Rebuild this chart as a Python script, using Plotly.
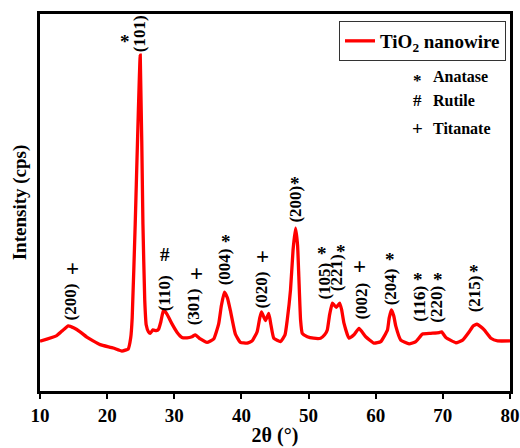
import plotly.graph_objects as go

# --- data ---
two_theta = [10.0, 12.49, 13.28, 14.22, 15.07, 15.97, 16.97, 17.91, 18.96, 20.9, 22.19, 22.84, 23.13,
             23.51, 23.73, 24.18, 24.93, 25.33, 25.60, 25.82, 26.16, 26.42, 26.82, 27.31, 27.66, 27.99,
             28.40, 28.91, 29.66, 30.40, 31.15, 31.90, 32.64, 33.13, 33.88, 34.88, 35.87, 36.61, 37.01,
             37.46, 37.91, 38.36, 39.10, 39.85, 40.85, 41.60, 42.34, 42.73, 42.99, 43.58, 44.07, 44.40,
             44.82, 45.82, 46.49, 46.82, 47.31, 47.69, 48.06, 48.36, 48.55, 48.81, 49.06, 49.81, 50.75,
             51.79, 52.39, 52.79, 53.13, 53.54, 53.81, 54.13, 54.63, 54.93, 55.27, 56.01, 56.76, 57.51,
             58.51, 59.75, 60.75, 61.75, 62.01, 62.34, 62.69, 62.99, 63.73, 64.97, 65.97, 66.97, 68.21,
             69.45, 69.81, 70.45, 71.94, 72.94, 73.93, 74.48, 75.07, 75.67, 76.16, 77.16, 78.16, 80.0]
intensity = [132, 147, 159, 173, 167, 157, 143, 133, 123, 114, 106, 109, 111,
             141, 194, 443, 891, 443, 241, 175, 157, 153, 162, 160, 164, 183,
             215, 204, 178, 156, 142, 141, 144, 149, 138, 129, 138, 178, 226,
             262, 247, 213, 151, 129, 127, 133, 157, 194, 210, 187, 206, 175,
             140, 131, 149, 188, 268, 374, 432, 387, 303, 188, 153, 144, 140,
             140, 149, 162, 202, 233, 228, 222, 233, 215, 180, 140, 149, 166,
             144, 127, 131, 162, 194, 215, 199, 172, 135, 125, 131, 151, 153,
             155, 157, 142, 128, 135, 157, 172, 177, 170, 162, 140, 133, 133]

hkl_labels = ["(200)", "(101)", "(110)", "(301)", "(004)", "(020)", "(200)", "(105)", "(221)",
              "(002)", "(204)", "(116)", "(220)", "(215)"]
label_x = [14.48, 24.93, 28.66, 32.99, 37.61, 42.99, 47.91, 52.39, 54.18, 57.91, 62.24, 66.57, 69.10, 74.63]
label_y = [235, 947, 260, 223, 329, 268, 496, 292, 314, 239, 277, 231, 231, 259]
phase_marks = ["+", "*", "#", "+", "*", "+", "*", "*", "*", "+", "*", "*", "*", "*"]
mark_x = [14.78, 22.69, 28.66, 33.28, 37.76, 43.09, 47.91, 52.04, 54.78, 57.61, 62.09, 66.27, 69.25, 74.63]
mark_y = [324, 940, 363, 313, 409, 356, 565, 377, 383, 329, 363, 310, 310, 329]

key_symbols = ["*", "#", "+"]
key_names = ["Anatase", "Rutile", "Titanate"]

x_ticks = [10, 20, 30, 40, 50, 60, 70, 80]
series_name = "<b>TiO<sub>2</sub> nanowire</b>"

FONT = "Liberation Serif, Times New Roman, serif"


def b(t):
    return "<b>" + t + "</b>"


fig = go.Figure()
fig.add_trace(go.Scatter(
    x=two_theta, y=intensity, mode="lines", name=series_name,
    line=dict(color="#ff0000", width=3.3, shape="spline", smoothing=0.4),
))

annotations = []
for lab, lx, ly in zip(hkl_labels, label_x, label_y):
    annotations.append(dict(x=lx, y=ly, xref="x", yref="y", text=b(lab), showarrow=False,
                            textangle=-90, font=dict(family=FONT, size=17, color="black")))
for m, mx, my in zip(phase_marks, mark_x, mark_y):
    annotations.append(dict(x=mx, y=my, xref="x", yref="y", text=b(m), showarrow=False,
                            yshift=-5 if m == "*" else 0,
                            font=dict(family=FONT, size=23 if m == "+" else 19, color="black")))

key_y = [76, 100, 128]
for s, n, ky in zip(key_symbols, key_names, key_y):
    yp = (391 - ky) / 377
    annotations.append(dict(x=(417 - 40) / 470, y=yp, xref="paper", yref="paper", text=b(s),
                            showarrow=False, xanchor="center", yanchor="middle",
                            yshift=-4 if s == "*" else 0,
                            font=dict(family=FONT, size=19 if s == "+" else 17, color="black")))
    annotations.append(dict(x=(431 - 40) / 470, y=yp, xref="paper", yref="paper", text=b(n),
                            showarrow=False, xanchor="left", yanchor="middle",
                            font=dict(family=FONT, size=16, color="black")))

fig.update_layout(
    width=520, height=448,
    margin=dict(l=40, r=10, t=14, b=57),
    plot_bgcolor="white", paper_bgcolor="white",
    font=dict(family=FONT, color="black"),
    showlegend=True,
    legend=dict(x=(506 - 40) / 470, y=(391 - 21) / 377, xanchor="right", yanchor="top",
                bgcolor="white", bordercolor="#333333", borderwidth=1,
                font=dict(family=FONT, size=19, color="black"),
                itemwidth=30, tracegroupgap=0),
    annotations=annotations,
    xaxis=dict(range=[10, 80], tickvals=x_ticks, ticktext=[b(str(v)) for v in x_ticks],
               ticks="outside", ticklen=5, tickwidth=2, automargin=False,
               tickcolor="black", showline=True, linewidth=2.5, linecolor="black", mirror=True,
               showgrid=False, zeroline=False,
               tickfont=dict(family=FONT, size=19, color="black"),
               title=dict(text=b("2θ (°)"), standoff=4,
                          font=dict(family=FONT, size=20, color="black"))),
    yaxis=dict(range=[0, 1000], showticklabels=False, ticks="", showline=True, linewidth=2.5,
               linecolor="black", mirror=True, showgrid=False, zeroline=False, automargin=False,
               title=dict(text=b("Intensity (cps)"), standoff=6,
                          font=dict(family=FONT, size=19, color="black"))),
)

fig.write_html("out.html", config={"displayModeBar": False},
               post_script="document.body.style.margin='0px';document.body.style.overflow='hidden';")
